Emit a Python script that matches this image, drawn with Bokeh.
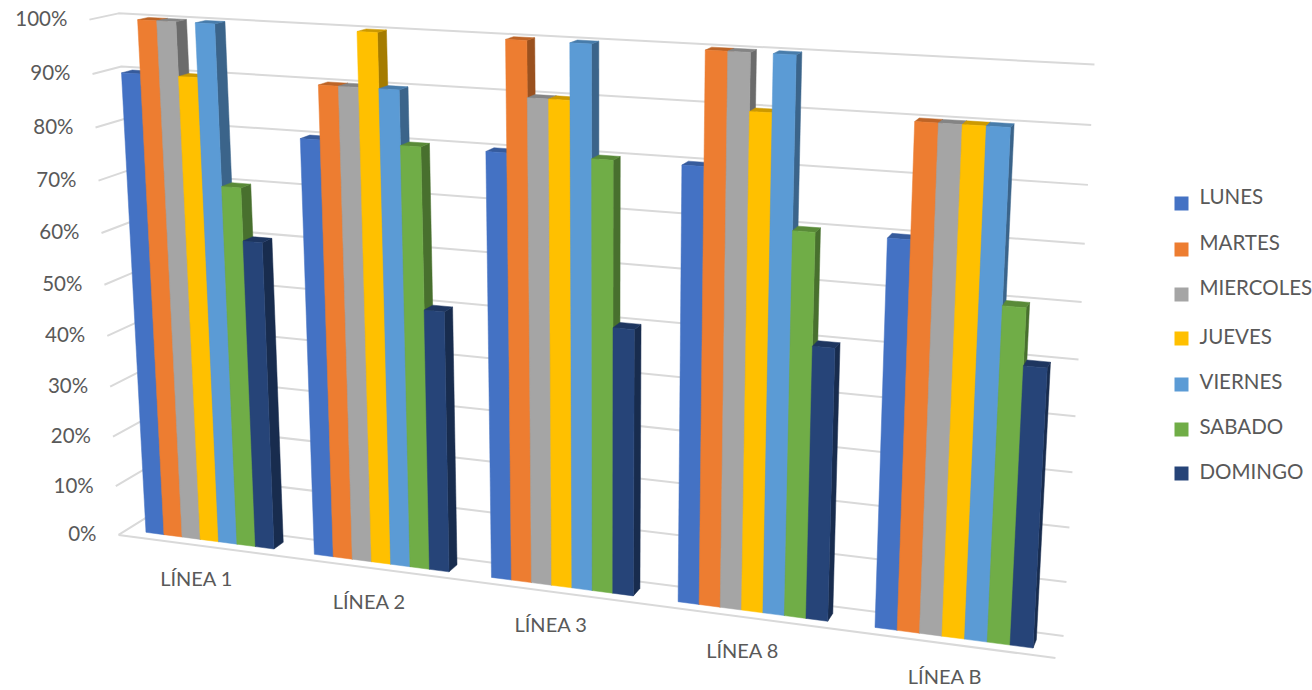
import numpy as np
from bokeh.plotting import figure
from bokeh.models import Range1d
from bokeh.core.properties import value
from bokeh.embed import file_html
from bokeh.resources import INLINE

categories = ["LÍNEA 1", "LÍNEA 2", "LÍNEA 3", "LÍNEA 8", "LÍNEA B"]
LUNES = [0.90, 0.80, 0.80, 0.80, 0.70]
MARTES = [1.00, 0.90, 1.00, 1.00, 0.90]
MIERCOLES = [1.00, 0.90, 0.90, 1.00, 0.90]
JUEVES = [0.90, 1.00, 0.90, 0.90, 0.90]
VIERNES = [1.00, 0.90, 1.00, 1.00, 0.90]
SABADO = [0.70, 0.80, 0.80, 0.70, 0.60]
DOMINGO = [0.60, 0.50, 0.50, 0.50, 0.50]
series_names = ["LUNES", "MARTES", "MIERCOLES", "JUEVES", "VIERNES", "SABADO", "DOMINGO"]
series = [LUNES, MARTES, MIERCOLES, JUEVES, VIERNES, SABADO, DOMINGO]
colors = ["#4472C4", "#ED7D31", "#A5A5A5", "#FFC000", "#5B9BD5", "#70AD47", "#264478"]
tick_values = [0, .1, .2, .3, .4, .5, .6, .7, .8, .9, 1.0]
tick_labels = ["0%", "10%", "20%", "30%", "40%", "50%", "60%", "70%", "80%", "90%", "100%"]

W, H = 1312, 690
FONT = "Lato"
TXT = "#595959"
GRID = "#D9D9D9"

# camera calibration: (category position, value, depth) -> page pixel
calib = [((0, 1, 1), (117, 13)), ((5, 1, 1), (1094, 64)), ((5, 0, 1), (1063, 636)),
         ((0, 0, 1), (146, 517)), ((0, 1, 0), (90, 19)), ((0, 0, 0), (117, 535)),
         ((5, 0, 0), (1055, 657))]
A = []
for (u, v, d), (x, y) in calib:
    A.append([u, v, d, 1, 0, 0, 0, 0, -x*u, -x*v, -x*d, -x])
    A.append([0, 0, 0, 0, u, v, d, 1, -y*u, -y*v, -y*d, -y])
P = np.linalg.svd(np.array(A, float))[2][-1].reshape(3, 4)


def proj(u, v, d):
    q = P @ np.array([u, v, d, 1.0])
    return q[0]/q[2], q[1]/q[2]


def shade(c, f):
    r, g, b = int(c[1:3], 16), int(c[3:5], 16), int(c[5:7], 16)
    return "#%02x%02x%02x" % (int(r*f), int(g*f), int(b*f))


p = figure(width=W, height=H, x_range=Range1d(0, W), y_range=Range1d(H, 0),
           output_backend="svg", toolbar_location=None, min_border=0)
p.axis.visible = False
p.grid.visible = False
p.outline_line_color = None

# walls and floor
for t in tick_values:
    a, b, c = proj(0, t, 0), proj(0, t, 1), proj(5, t, 1)
    p.line([a[0], b[0], c[0]], [a[1], b[1], c[1]], line_color=GRID, line_width=2)
a, b = proj(0, 0, 0), proj(5, 0, 0)
p.line([a[0], b[0]], [a[1], b[1]], line_color=GRID, line_width=2)

# bars
GAP = 0.235
BW = (1-GAP)/7
D0, D1 = 0.30, 0.68
xs, ys, fc = [], [], []
for c in range(len(categories)):
    for s, vals in enumerate(series):
        u0 = c + GAP/2 + s*BW
        u1 = u0 + BW
        h = vals[c]
        faces = [
            ([(u1, 0, D0), (u1, 0, D1), (u1, h, D1), (u1, h, D0)], shade(colors[s], 0.65)),
            ([(u0, h, D0), (u1, h, D0), (u1, h, D1), (u0, h, D1)], shade(colors[s], 0.8)),
            ([(u0, 0, D0), (u1, 0, D0), (u1, h, D0), (u0, h, D0)], colors[s]),
        ]
        for pts, col in faces:
            q = [proj(*t) for t in pts]
            xs.append([k[0] for k in q])
            ys.append([k[1] for k in q])
            fc.append(col)
p.patches(xs, ys, fill_color=fc, line_color=fc, line_width=0.5)

# value labels
lx, ly = [], []
for t in tick_values:
    q = proj(0, t, 0)
    lx.append(q[0]-22)
    ly.append(q[1]-1.5)
p.text(lx, ly, text=tick_labels, text_font=value(FONT), text_font_size="20.5px", text_color=TXT,
       text_align="right", text_baseline="middle")

# category labels
cat_x, cat_y = [], []
for c in range(len(categories)):
    q = proj(c+0.5, 0, 0)
    cat_x.append(q[0]-5)
    cat_y.append(q[1]+32)
p.text(cat_x, cat_y, text=categories, text_font=value(FONT), text_font_size="20px", text_color=TXT,
       text_align="center", text_baseline="middle")

# legend
leg_y = [203, 249, 294, 338, 384, 429, 473]
txt_y = [195.5, 241, 286, 335.5, 380.5, 425.5, 470.5]
for i, n in enumerate(series_names):
    p.quad(left=[1174], right=[1188], top=[leg_y[i]-7], bottom=[leg_y[i]+7], fill_color=colors[i], line_color=None)
p.text([1199]*7, txt_y, text=series_names, text_font=value(FONT), text_font_size="20.5px", text_color=TXT,
       text_align="left", text_baseline="middle")

open("out.html", "w").write(file_html(p, INLINE))
